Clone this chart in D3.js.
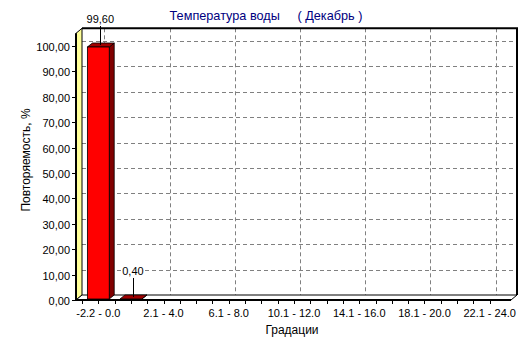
<!DOCTYPE html>
<html><head><meta charset="utf-8">
<script src="https://cdn.jsdelivr.net/npm/d3@7"></script>
<style>body{margin:0;background:#fff}svg{display:block}text{font-family:"Liberation Sans",Arial,sans-serif}</style>
</head><body>
<script>
const categories = ["-2.2 - 0.0","0.1 - 2.0","2.1 - 4.0","4.1 - 6.0","6.1 - 8.0","8.1 - 10.0","10.1 - 12.0","12.1 - 14.0","14.1 - 16.0","16.1 - 18.0","18.1 - 20.0","20.1 - 22.0","22.1 - 24.0"];
const values = [99.6, 0.4, 0, 0, 0, 0, 0, 0, 0, 0, 0, 0, 0];
const yTicks = [0,10,20,30,40,50,60,70,80,90,100];
const title = "Температура воды     ( Декабрь )";
const yTitle = "Повторяемость, %";
const xTitle = "Градации";

const W = 532, H = 343;
const svg = d3.select("body").append("svg").attr("width", W).attr("height", H);

const fx0 = 76, fx1 = 511, fy0 = 300;
const DX = 6, DY = -5;     // wall depth
const BX = 5, BY = -4;     // bar depth
const y = d3.scaleLinear().domain([0, 105]).range([fy0, 33.3]);
const x = d3.scaleBand().domain(categories).range([82, 506]).paddingInner(0.33).paddingOuter(0.165);
const bw = x.bandwidth();
const cx = c => x(c) + bw / 2;
const fmt = v => d3.format(".2f")(v).replace(".", ",");

// back wall
svg.append("rect").attr("x", fx0 + DX).attr("y", y(105) + DY).attr("width", fx1 - fx0).attr("height", y(0) - y(105)).attr("fill", "#fff");

// grid on back wall
const g = svg.append("g").attr("stroke", "#808080").attr("stroke-dasharray", "4,3").attr("stroke-width", 1);
yTicks.filter(v => v > 0).forEach(v => {
  g.append("line").attr("x1", fx0 + DX).attr("x2", fx1 + DX).attr("y1", Math.round(y(v) + DY) + 0.5).attr("y2", Math.round(y(v) + DY) + 0.5);
});
categories.forEach((c, i) => {
  if (i % 2 === 0) {
    const xx = Math.round(cx(c) + DX) + 0.5;
    g.append("line").attr("x1", xx).attr("x2", xx).attr("y1", y(105) + DY).attr("y2", fy0 + DY);
  }
});

// back wall border top/right
svg.append("path").attr("d", `M${fx0 + DX},${y(105) + DY}H${fx1 + DX}V${fy0 + DY}`).attr("fill", "none").attr("stroke", "#000").attr("stroke-width", 2);

// left wall (yellow)
svg.append("path").attr("d", `M${fx0},${fy0}V${y(105)}L${fx0 + DX},${y(105) + DY}V${fy0 + DY}Z`).attr("fill", "#FFFF99").attr("stroke", "#000").attr("stroke-width", 1);
svg.append("line").attr("x1", fx0).attr("x2", fx0).attr("y1", y(105)).attr("y2", fy0).attr("stroke", "#000").attr("stroke-width", 2);

// floor
svg.append("path").attr("d", `M${fx0},${fy0}L${fx0 + DX},${fy0 + DY}H${fx1 + DX}L${fx1},${fy0}Z`).attr("fill", "#fff").attr("stroke", "#000").attr("stroke-width", 1);
svg.append("line").attr("x1", fx0).attr("x2", fx1).attr("y1", fy0).attr("y2", fy0).attr("stroke", "#000").attr("stroke-width", 2);

// bars
const bars = svg.append("g");
categories.forEach((c, i) => {
  const v = values[i];
  if (v <= 0) return;
  const x0 = x(c), x1 = x0 + bw, yt = y(v), yb = fy0 - 1;
  bars.append("path").attr("d", `M${x1},${yb}V${yt}L${x1 + BX},${yt + BY}V${yb + BY}Z`).attr("fill", "#800000").attr("stroke", "#000").attr("stroke-width", 0.8);
  bars.append("path").attr("d", `M${x0},${yt}L${x0 + BX},${yt + BY}H${x1 + BX}L${x1},${yt}Z`).attr("fill", "#A00000").attr("stroke", "#000").attr("stroke-width", 0.8);
  if (yb - yt > 1) bars.append("rect").attr("x", x0).attr("y", yt).attr("width", bw).attr("height", yb - yt).attr("fill", "#FF0000").attr("stroke", "#000").attr("stroke-width", 0.8);
  // label with leader
  const lx = cx(c) + 2, ly = yt + BY / 2;
  const ty = ly - 22;
  bars.append("line").attr("x1", Math.round(lx) + 0.5).attr("x2", Math.round(lx) + 0.5).attr("y1", ty + 3).attr("y2", ly).attr("stroke", "#000");
  const t = bars.append("text").attr("x", lx).attr("y", ty).attr("text-anchor", "middle").attr("font-size", 11).text(fmt(v));
  const bb = t.node().getBBox();
  bars.insert("rect", "text").attr("x", bb.x - 1).attr("y", bb.y).attr("width", bb.width + 2).attr("height", bb.height).attr("fill", "#fff");
});

// y axis
const ya = svg.append("g");
yTicks.forEach(v => {
  const yy = Math.round(y(v)) + 0.5;
  ya.append("line").attr("x1", fx0 - 4).attr("x2", fx0).attr("y1", yy).attr("y2", yy).attr("stroke", "#000");
  ya.append("text").attr("x", fx0 - 6).attr("y", yy + 4).attr("text-anchor", "end").attr("font-size", 11).text(fmt(v));
});

// x axis ticks
const xa = svg.append("g");
const step = x.step();
categories.forEach((c, i) => {
  [x(c) - step * x.paddingInner() / 2, cx(c)].forEach(t => {
    const xx = Math.round(t) + 0.5;
    xa.append("line").attr("x1", xx).attr("x2", xx).attr("y1", fy0).attr("y2", fy0 + 4).attr("stroke", "#000");
  });
  if (i % 2 === 0) xa.append("text").attr("x", cx(c)).attr("y", 317).attr("text-anchor", "middle").attr("font-size", 11).text(c);
});

// titles
svg.append("text").attr("x", 266).attr("y", 20).attr("text-anchor", "middle").attr("font-size", 12.7).attr("fill", "#000080").attr("xml:space", "preserve").style("white-space", "pre").text(title);
svg.append("text").attr("x", 292).attr("y", 334).attr("text-anchor", "middle").attr("font-size", 12).text(xTitle);
svg.append("text").attr("transform", "translate(30,160) rotate(-90)").attr("text-anchor", "middle").attr("font-size", 12).text(yTitle);
</script>
</body></html>
